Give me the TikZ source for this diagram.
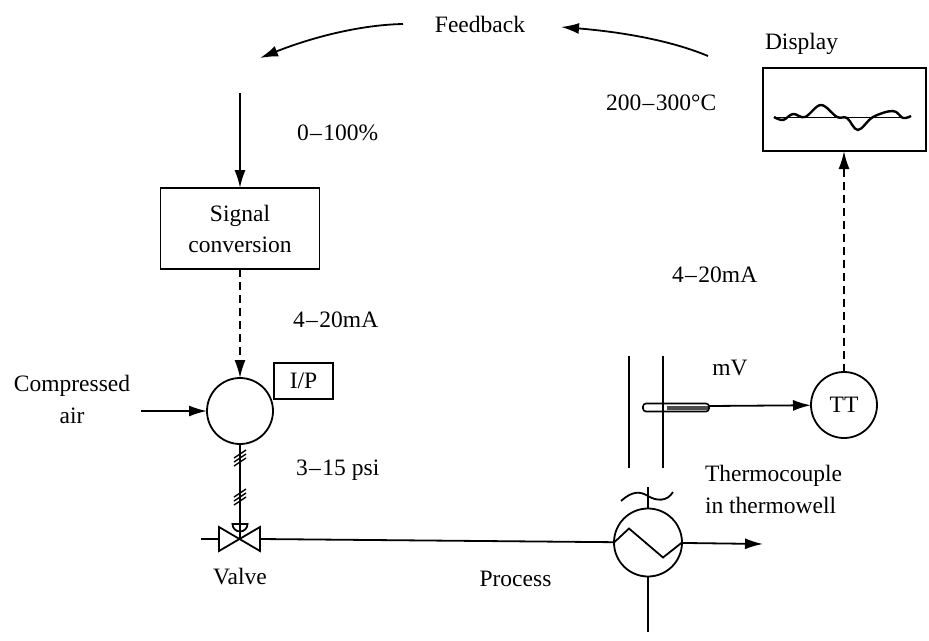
\documentclass[tikz,border=0pt]{standalone}
\usepackage{fontspec}
\setmainfont{Liberation Serif}
\usepackage{xcolor}
\usepackage{tikz}
\usetikzlibrary{arrows.meta,positioning}

\newcommand{\rng}{\kern1.5pt--\kern1.5pt}

\begin{document}
\begin{tikzpicture}[
  x=1pt, y=-1pt,
  every node/.style={font=\fontsize{23.5}{28}\selectfont, inner sep=0pt, outer sep=0pt},
  ctrlbox/.style={draw, line width=1.8pt, align=center},
  instr/.style={draw, circle, line width=1.8pt, minimum size=66pt},
  edge/.style={-{Latex[length=18pt, width=11pt]}, line width=1.8pt},
  dashededge/.style={edge, dash pattern=on 8pt off 5pt},
  plain/.style={line width=1.8pt},
  note/.style={align=center},
  tag/.style={anchor=west}
]
\useasboundingbox (0,0) rectangle (929,640);

\node[ctrlbox, minimum width=159pt, minimum height=81pt] (signal) at (240,228.5) {Signal\\[3pt]conversion};
\node[instr, below=109pt of signal] (ip) {};
\node[ctrlbox, minimum width=59pt, minimum height=36pt] (iptag) at (303.5,381) {I/P};
\node[ctrlbox, minimum width=163pt, minimum height=83pt] (display) at (844.5,109.5) {};
\node[instr, below=221pt of display, xshift=-0.5pt] (tt) {TT};
\node[instr, minimum size=68pt] (hx) at (648,542.5) {};

\coordinate (feedin) at (240,93);
\coordinate (airin) at (141,411);
\coordinate (valve) at (240,539);
\coordinate (dome) at (240,524);
\coordinate (procin) at (260,539);
\coordinate (procstub) at (201,539);
\coordinate (valveleft) at (219,539);
\coordinate (procout) at (763,544);
\coordinate (utilout) at (648,632);
\coordinate (utilstem) at (648,487);
\coordinate (probe) at (709,406);
\coordinate (fbastart) at (708,56);
\coordinate (fbaend) at (561,27);
\coordinate (fbbstart) at (403,24);
\coordinate (fbbend) at (260,58);

\draw[edge] (feedin) -- (signal);
\draw[dashededge] (signal) -- (ip);
\draw[edge] (airin) -- (ip);
\draw[dashededge] (tt) -- (tt |- display.south);
\draw[edge] (probe) -- (tt);
\draw[edge] (fbastart) .. controls (665,38) and (610,31) .. (fbaend);
\draw[edge] (fbbstart) .. controls (355,25) and (305,40) .. (fbbend);

\draw[plain] (ip) -- (dome);
\foreach \tickY in {454,458,462,493,497,501}
  \draw[line width=1.4pt] (234,\tickY+4) -- (246,\tickY-4);

\draw[plain, fill=white] (232.5,524) arc[start angle=180, end angle=0, radius=7.5] -- cycle;
\draw[plain] (dome) -- (valve);
\draw[plain, line join=miter] (219,527) -- (260,551) -- (260,527) -- (219,551) -- cycle;
\draw[plain] (procstub) -- (valveleft);
\draw[plain] (procin) -- (hx);
\draw[edge] (hx) -- (procout);
\draw[plain] (hx) -- (utilout);
\draw[plain] (hx) -- (utilstem);
\draw[plain] (621,501) .. controls (632,491) and (640,491) .. (648,496) .. controls (656,501) and (667,502) .. (673,492);
\draw[plain] (hx.west) -- ++(15,-14) -- ++(34,29) -- (hx.east);

\draw[plain] (629,356) -- (629,468);
\draw[plain] (663,356) -- (663,468);
\draw[line width=1.6pt, rounded corners=3pt] (643,403.5) rectangle (709,411.5);
\fill[black!70] (667,405.5) rectangle (708,409.5);

\draw[line width=1pt] (775,117) -- (910,117);
\draw[line width=2.4pt] plot[smooth, tension=0.6] coordinates {(774,117) (783,120) (793,114) (805,117) (821,105) (837,117) (847,118) (858,130) (873,117) (893,111) (903,118) (911,116)};

\node (feedback) at (480,24) {Feedback};
\node[tag] (pct) at (297,133) {0\rng100\%};
\node[tag] (milliamp) at (293,320) {4\rng20mA};
\node[note] (air) at (72,399) {Compressed\\[4pt]air};
\node[tag] (psi) at (296,470) {3\rng15 psi};
\node (valvelabel) at (240,577) {Valve};
\node (process) at (515.5,579) {Process};
\node[tag] (displaylabel) at (765,44) {Display};
\node[tag] (temp) at (606,103) {200\rng300°C};
\node[tag] (ttout) at (672,275) {4\rng20mA};
\node (mv) at (730,368) {mV};
\node[tag, align=left] (tclabel) at (705,489) {Thermocouple\\[4pt]in thermowell};
\end{tikzpicture}
\end{document}
